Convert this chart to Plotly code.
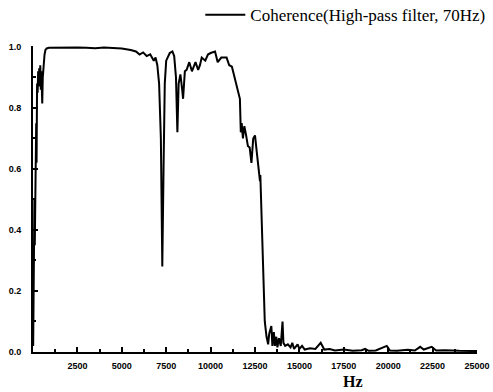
import plotly.graph_objects as go

freq_hz = [
    10, 40, 60, 80, 100, 130, 150, 180, 200, 230, 260, 290, 320, 350, 380, 410, 440, 470, 500, 520,
    550, 600, 650, 700, 770, 900, 1500, 2000, 2500, 3000, 3500, 4000, 4500, 5000, 5500, 5800, 6000,
    6200, 6400, 6600, 6800, 6900, 7000, 7100, 7200, 7280, 7350, 7420, 7500, 7600, 7700, 7850, 7950,
    8050, 8130, 8200, 8300, 8400, 8450, 8550, 8650, 8800, 8950, 9150, 9300, 9400, 9500, 9700, 9850,
    10000, 10250, 10400, 10600, 10900, 11050, 11200, 11400, 11550, 11650, 11700, 11750, 11820, 11900,
    12000, 12100, 12200, 12300, 12400, 12500, 12600, 12700, 12780, 12800, 12870, 12960, 13050, 13150,
    13240, 13300, 13420, 13480, 13560, 13620, 13700, 13760, 13850, 13950, 14050, 14100, 14200, 14350,
    14500, 14600, 14700, 14900, 15000, 15150, 15300, 15600, 15900, 16200, 16400, 16700, 17000, 17500,
    18000, 18500, 18700, 18900, 19300, 19920, 20100, 20500, 21100, 21500, 21800, 22000, 22450, 22700,
    23200, 24000, 24700, 25000,
]
coherence = [
    0.02, 0.30, 0.15, 0.50, 0.35, 0.60, 0.45, 0.75, 0.62, 0.88, 0.85, 0.92, 0.87, 0.93, 0.88, 0.94, 0.86, 0.92, 0.84, 0.815,
    0.90, 0.95, 0.975, 0.99, 0.995, 0.997, 0.998, 0.997, 0.998, 0.997, 0.996, 0.998, 0.996, 0.995, 0.99, 0.985, 0.975,
    0.982, 0.97, 0.976, 0.955, 0.965, 0.94, 0.88, 0.70, 0.28, 0.60, 0.88, 0.955, 0.97, 0.98, 0.985, 0.97,
    0.90, 0.72, 0.88, 0.91, 0.86, 0.83, 0.92, 0.925, 0.95, 0.92, 0.95, 0.925, 0.94, 0.965, 0.955, 0.975,
    0.98, 0.985, 0.95, 0.965, 0.965, 0.94, 0.935, 0.89, 0.86, 0.83, 0.72, 0.75, 0.70, 0.74,
    0.71, 0.675, 0.67, 0.62, 0.70, 0.71, 0.655, 0.60, 0.56, 0.58, 0.46, 0.27, 0.10, 0.05,
    0.025, 0.06, 0.085, 0.02, 0.065, 0.02, 0.05, 0.015, 0.045, 0.02, 0.10, 0.03, 0.02, 0.025,
    0.015, 0.03, 0.01, 0.025, 0.01, 0.02, 0.008, 0.012, 0.01, 0.03, 0.008, 0.01, 0.005, 0.008,
    0.004, 0.006, 0.01, 0.004, 0.005, 0.02, 0.005, 0.004, 0.007, 0.005, 0.017, 0.008, 0.017, 0.005,
    0.006, 0.004, 0.003, 0.003,
]

x_tickvals = [2500, 5000, 7500, 10000, 12500, 15000, 17500, 20000, 22500, 25000]
x_ticktext = ["2500", "5000", "7500", "10000", "12500", "15000", "17500", "20000", "22500", "25000"]
y_tickvals = [0.0, 0.2, 0.4, 0.6, 0.8, 1.0]
y_ticktext = ["0.0", "0.2", "0.4", "0.6", "0.8", "1.0"]

fig = go.Figure()
fig.add_trace(go.Scatter(
    x=freq_hz, y=coherence, mode="lines",
    line=dict(color="black", width=2),
    name="Coherence(High-pass filter, 70Hz)",
))

tickfont = dict(family="Liberation Sans", size=9, color="black", weight="bold")
fig.update_layout(
    width=493, height=392,
    margin=dict(l=33, r=16, t=46, b=40, autoexpand=False),
    paper_bgcolor="white", plot_bgcolor="white",
    showlegend=True,
    legend=dict(
        x=1.03, xanchor="right", y=1.101, yanchor="middle",
        font=dict(family="Liberation Serif", size=17, color="black"),
        bgcolor="rgba(0,0,0,0)", borderwidth=0,
        itemwidth=40,
    ),
    xaxis=dict(
        range=[0, 25000], tickvals=x_tickvals, ticktext=x_ticktext,
        ticks="inside", ticklen=5, tickwidth=1.5, tickcolor="black",
        minor=dict(dtick=1250, ticks="inside", ticklen=3, tickcolor="black"),
        showline=True, linecolor="black", linewidth=2,
        showgrid=False, zeroline=False, tickfont=tickfont,
        ticklabelstandoff=4,
    ),
    yaxis=dict(
        range=[0, 1.003], tickvals=y_tickvals, ticktext=y_ticktext,
        ticks="inside", ticklen=5, tickwidth=1.5, tickcolor="black",
        minor=dict(dtick=0.1, ticks="inside", ticklen=3, tickcolor="black"),
        showline=True, linecolor="black", linewidth=2,
        showgrid=False, zeroline=False, tickfont=tickfont,
        ticklabelstandoff=8,
    ),
    annotations=[dict(
        text="<b>Hz</b>", x=0.72, xref="paper", y=-0.095, yref="paper",
        xanchor="center", yanchor="middle", showarrow=False,
        font=dict(family="Liberation Serif", size=16, color="black"),
    )],
)

fig.write_html("out.html")
